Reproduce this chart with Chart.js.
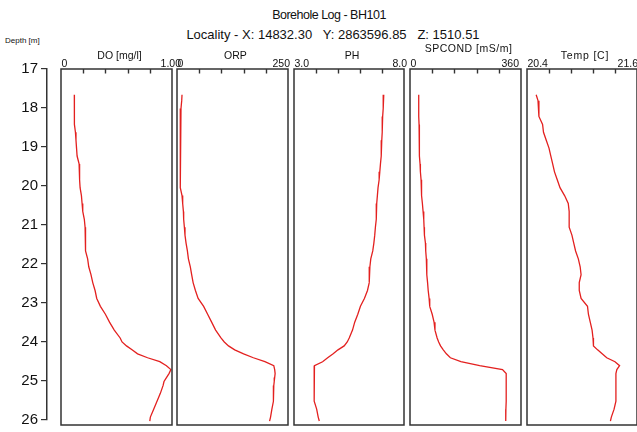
<!DOCTYPE html>
<html>
<head>
<meta charset="utf-8">
<title>Borehole Log - BH101</title>
<script src="https://cdn.jsdelivr.net/npm/chart.js@4.4.1/dist/chart.umd.min.js"></script>
<style>
  body { margin: 0; background: #fff; }
  #wrap { position: relative; width: 637px; height: 432px; overflow: hidden; font-family: "Liberation Sans", Arial, sans-serif; color: #111; }
  #wrap canvas { position: absolute; left: 0; top: 0; }
  .hd { position: absolute; white-space: pre; line-height: 1; }
</style>
</head>
<body>
<div id="wrap">
  <div class="hd" style="left:0;width:658px;text-align:center;top:8.5px;font-size:12.5px;letter-spacing:-0.5px;">Borehole Log - BH101</div>
  <div class="hd" style="left:0;width:666px;text-align:center;top:28px;font-size:13px;">Locality - X: 14832.30   Y: 2863596.85   Z: 1510.51</div>
  <div class="hd" style="left:5px;top:37px;font-size:8px;">Depth [m]</div>
  <canvas id="depth" width="637" height="432"></canvas>
  <canvas id="p0" width="637" height="432"></canvas>
  <canvas id="p1" width="637" height="432"></canvas>
  <canvas id="p2" width="637" height="432"></canvas>
  <canvas id="p3" width="637" height="432"></canvas>
  <canvas id="p4" width="637" height="432"></canvas>
</div>
<script>
// logged depths (m), shared by every sensor
var depths = [17.65, 17.8, 18.0, 18.2, 18.4, 18.6, 18.8, 19.0, 19.2, 19.4, 19.6, 19.8,
  20.0, 20.2, 20.4, 20.6, 20.8, 21.0, 21.2, 21.4, 21.6, 21.8, 22.0, 22.2, 22.4, 22.6, 22.8,
  23.0, 23.2, 23.4, 23.6, 23.8, 23.9, 24.0, 24.1, 24.2, 24.3, 24.4, 24.5, 24.6, 24.7, 24.8,
  24.9, 25.0, 25.2, 25.4, 25.6, 25.8, 25.9]

var doVals = [0.12, 0.12, 0.12, 0.12, 0.123, 0.13, 0.135, 0.14, 0.145, 0.163, 0.165, 0.17,
  0.172, 0.184, 0.19, 0.196, 0.21, 0.217, 0.22, 0.22, 0.223, 0.24, 0.25, 0.27, 0.286, 0.307, 0.322,
  0.355, 0.40, 0.437, 0.48, 0.533, 0.55, 0.59, 0.64, 0.69, 0.78, 0.89, 0.95, 0.99, 0.973, 0.95,
  0.928, 0.92, 0.895, 0.865, 0.835, 0.805, 0.80]

var orpVals = [11.3, 10.6, 9, 8.3, 7.5, 7.5, 6.8, 6.8, 6.8, 6.8, 7.5, 7.5,
  8.3, 11.3, 12.8, 14.4, 15, 16.6, 18, 20.4, 23.4, 25.7, 30, 33, 36.3, 41.5, 47.6,
  60, 69, 78, 87, 99, 106.5, 116, 130, 150, 172, 198, 218, 220, 221, 220,
  219, 218, 217.5, 216.8, 213.7, 210.7, 208.5]

var phVals = [7.08, 7.06, 7.05, 7.03, 7.02, 7.0, 6.99, 6.97, 6.96, 6.93, 6.90, 6.87,
  6.82, 6.79, 6.76, 6.75, 6.73, 6.70, 6.67, 6.63, 6.58, 6.49, 6.45, 6.43, 6.41, 6.34, 6.2,
  6.02, 5.9, 5.76, 5.66, 5.51, 5.42, 5.28, 5.0, 4.78, 4.53, 4.30, 3.93, 3.91, 3.91, 3.91,
  3.91, 3.91, 3.92, 3.95, 4.03, 4.10, 4.15]

var spcondVals = [28.3, 28.3, 28.3, 28.3, 29.4, 29.4, 30.5, 30.5, 31.5, 32.6, 33.7, 35.9,
  37, 38, 40.2, 42.4, 44.6, 45.7, 46.8, 50, 51, 53, 54, 55, 57, 59, 62,
  64, 72, 78, 81, 88, 93, 99, 108, 118, 131, 165, 226, 300, 312, 312,
  312, 312, 312, 312, 311, 311, 310]

var tempVals = [20.50, 20.52, 20.53, 20.53, 20.57, 20.58, 20.61, 20.64, 20.66, 20.68, 20.70, 20.73,
  20.76, 20.81, 20.85, 20.86, 20.86, 20.86, 20.89, 20.91, 20.93, 20.96, 20.98, 20.99, 20.97, 20.97, 20.99,
  21.06, 21.07, 21.09, 21.11, 21.12, 21.12, 21.13, 21.17, 21.22, 21.27, 21.36, 21.41, 21.38, 21.37, 21.37,
  21.37, 21.37, 21.37, 21.37, 21.35, 21.32, 21.31]

var trackTitles = ['DO [mg/l]', 'ORP', 'PH', 'SPCOND [mS/m]', 'Temp [C]']
var trackMin = [0, 0, 3.0, 0, 20.4]
var trackMax = [1.0, 250, 8.0, 360, 21.6]
var minLabels = ['0', '0', '3.0', '0', '20.4']
var maxLabels = ['1.00', '250', '8.0', '360', '21.6']
var depthTicks = [17, 18, 19, 20, 21, 22, 23, 24, 25, 26]

var seriesList = [doVals, orpVals, phVals, spcondVals, tempVals]

// where each track sits on the page (left, right), its title height,
// and how far the max label runs past the right edge
var trackBox = [[61, 172], [177, 288], [294, 404], [410, 521], [527, 637]]
var titleY = [56, 56, 56, 49, 56]
var titleSpacing = [0, 0, 0, 0.5, 0.8]
var maxLabelShift = [9, 2, 3, -2, 1]

var W = 637, H = 432, TOP = 69, BOTTOM = 425
var frameColor = '#333'
var lineColor = '#e3201f'
var fontFamily = '"Liberation Sans", Arial, sans-serif'

Chart.defaults.font.family = fontFamily
Chart.defaults.color = '#111'

// box round the track, short inward ticks on its top edge, the end values and the title
var trackFrame = {
  id: 'trackFrame',
  afterDraw: function(chart, args, opts) {
    var a = chart.chartArea
    var ctx = chart.ctx
    var xs = chart.scales.x
    var p = opts.track
    ctx.save()
    ctx.strokeStyle = frameColor
    ctx.lineWidth = 1.5
    ctx.strokeRect(a.left, a.top, a.right - a.left, a.bottom - a.top)
    ctx.lineWidth = 1.4
    ctx.beginPath()
    var step = (xs.max - xs.min) / 5
    for (var i = 1; i < 5; i++) {
      var px = Math.round(xs.getPixelForValue(xs.min + i * step)) + 0.5
      ctx.moveTo(px, a.top)
      ctx.lineTo(px, a.top + 4.5)
    }
    ctx.stroke()

    ctx.fillStyle = '#111'
    ctx.font = '10.5px ' + fontFamily
    ctx.textBaseline = 'alphabetic'
    ctx.textAlign = 'left'
    ctx.fillText(minLabels[p], xs.getPixelForValue(xs.min) + 0.5, a.top - 2.5)
    ctx.textAlign = 'right'
    ctx.fillText(maxLabels[p], xs.getPixelForValue(xs.max) + maxLabelShift[p], a.top - 2.5)

    ctx.textAlign = 'center'
    ctx.textBaseline = 'middle'
    ctx.letterSpacing = titleSpacing[p] + 'px'
    var mid = (xs.getPixelForValue(xs.min) + xs.getPixelForValue(xs.max)) / 2 + 3
    ctx.fillText(trackTitles[p], mid, titleY[p])
    ctx.restore()
  }
}

// depth axis on the left
new Chart(document.getElementById('depth'), {
  type: 'scatter',
  data: { datasets: [] },
  options: {
    responsive: false,
    animation: false,
    events: [],
    layout: { autoPadding: false, padding: { top: TOP, bottom: H - BOTTOM, left: 0, right: W - 57 } },
    plugins: { legend: { display: false }, tooltip: { enabled: false } },
    scales: {
      x: { display: false, min: 0, max: 1 },
      y: {
        min: 17, max: 26, reverse: true,
        afterBuildTicks: function(s) { s.ticks = depthTicks.map(function(v) { return { value: v } }) },
        afterFit: function(s) { s.width = 47 },
        ticks: { font: { size: 15 }, color: '#111', padding: 3 },
        grid: { drawOnChartArea: false, tickLength: 6, color: frameColor, lineWidth: 1.2 },
        border: { color: frameColor, width: 1.5 }
      }
    }
  }
})

for (var p = 0; p < 5; p++) {
  (function(p) {
    var vals = seriesList[p]
    var pts = depths.map(function(d, i) { return { x: vals[i], y: d } })
    new Chart(document.getElementById('p' + p), {
      type: 'scatter',
      data: {
        datasets: [{
          data: pts,
          showLine: true,
          borderColor: lineColor,
          borderWidth: 1.3,
          pointRadius: 0,
          fill: false,
          tension: 0
        }]
      },
      options: {
        responsive: false,
        animation: false,
        events: [],
        layout: { autoPadding: false, padding: { top: 0, bottom: H - BOTTOM, left: trackBox[p][0], right: W - trackBox[p][1] } },
        plugins: { legend: { display: false }, tooltip: { enabled: false }, trackFrame: { track: p } },
        scales: {
          x: {
            type: 'linear',
            position: 'top',
            min: trackMin[p], max: trackMax[p],
            afterFit: function(s) { s.height = TOP },
            ticks: { display: false },
            grid: { display: false },
            border: { display: false }
          },
          y: { display: false, min: 17, max: 26, reverse: true }
        }
      },
      plugins: [trackFrame]
    })
  })(p)
}
</script>
</body>
</html>
